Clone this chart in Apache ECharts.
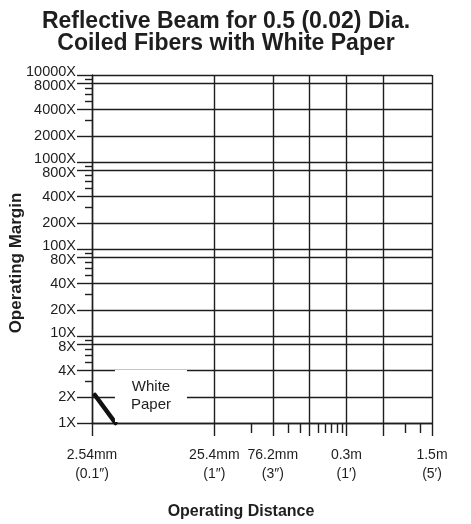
<!DOCTYPE html>
<html><head><meta charset="utf-8">
<script src="https://cdn.jsdelivr.net/npm/echarts@6/dist/echarts.min.js"></script>
<style>html,body{margin:0;padding:0;background:#fff}#chart{width:471px;height:524px}</style>
</head><body><div id="chart"></div>
<script>
const titleText = 'Reflective Beam for 0.5 (0.02) Dia.\nCoiled Fibers with White Paper';
const xName = 'Operating Distance';
const yName = 'Operating Margin';
const seriesName = 'White\nPaper';
// Operating distance (mm) and operating margin (X) of the White Paper curve
const distanceMm = [2.68, 3.95];
const marginX = [2.1, 1.0];
// X axis (mm): grid lines, labelled ticks, minor ticks
const xGridValues = [2.54, 25.4, 76.2, 152.4, 304.8, 609.6, 1524];
const xLabelValues = [2.54, 25.4, 76.2, 304.8, 1524];
const xLabelTexts = ['2.54mm\n(0.1″)', '25.4mm\n(1″)', '76.2mm\n(3″)', '0.3m\n(1′)', '1.5m\n(5′)'];
const xMinorValues = [50.8, 101.6, 127, 177.8, 203.2, 228.6, 254, 279.4, 914.4, 1219.2];
// Y axis (X margin): grid lines, labels (two label sets), minor ticks
const yGridValues = [1, 2, 4, 8, 10, 20, 40, 80, 100, 200, 400, 800, 1000, 2000, 4000, 8000, 10000];
const yLabelMain = [1, 2, 4, 10, 20, 40, 100, 200, 400, 1000, 2000, 4000, 10000];
const yLabelEights = [8, 80, 800, 8000];
const yMinorValues = [3, 5, 6, 7, 9, 30, 50, 60, 70, 90, 300, 500, 600, 700, 900, 3000, 5000, 6000, 7000, 9000];

const FONT = "'Liberation Sans', Arial, Helvetica, sans-serif";
const INK = '#1e1e1e';
const gridLine = { color: INK, width: 1.4 };

const chart = echarts.init(document.getElementById('chart'), null, { renderer: 'canvas' });

function xLabelFor(v) {
  for (let i = 0; i < xLabelValues.length; i++) {
    if (Math.abs(xLabelValues[i] - v) < 1e-6 * xLabelValues[i]) return xLabelTexts[i];
  }
  return '';
}
// Labels at 10^n (n>0) sit a little higher so they do not collide with the 8·10^(n-1) label below
function yMainLabel(v) {
  const lg = Math.log10(v);
  if (v > 1 && Math.abs(lg - Math.round(lg)) < 1e-9) return '{up|' + v + 'X}';
  return '{n|' + v + 'X}';
}
function yEightLabel(v) { return '{dn|' + v + 'X}'; }

const lastIdx = distanceMm.length - 1;
const yLabelBase = { fontFamily: FONT, fontSize: 14.5, color: INK };
const yRich = {
  n: Object.assign({}, yLabelBase),
  up: Object.assign({ padding: [0, 0, 6, 0] }, yLabelBase),
  dn: Object.assign({ padding: [6, 0, 0, 0] }, yLabelBase)
};

chart.setOption({
  animation: false,
  backgroundColor: '#fff',
  title: {
    text: titleText,
    left: 226,
    top: 11,
    textAlign: 'center',
    padding: 0,
    textStyle: { fontFamily: FONT, fontSize: 23, fontWeight: 'bold', lineHeight: 22, color: INK }
  },
  grid: { left: 92, right: 39, top: 75, bottom: 101, containLabel: false, outerBoundsMode: 'none' },
  xAxis: [
    {
      type: 'log', logBase: 10, min: 2.54, max: 1524, position: 'bottom',
      name: xName, nameLocation: 'middle', nameGap: 81,
      nameTextStyle: { fontFamily: FONT, fontSize: 16, fontWeight: 'bold', color: INK, padding: [0, 42, 0, 0] },
      axisLine: { show: true, lineStyle: gridLine },
      axisTick: { show: true, inside: false, length: 13, customValues: xGridValues, lineStyle: gridLine },
      axisLabel: {
        customValues: xLabelValues, formatter: xLabelFor, margin: 22,
        showMinLabel: true, showMaxLabel: true,
        fontFamily: FONT, fontSize: 14, lineHeight: 19.5, color: INK
      },
      splitLine: { show: true, lineStyle: gridLine }
    },
    {
      type: 'log', logBase: 10, min: 2.54, max: 1524, position: 'bottom', gridIndex: 0,
      axisLine: { show: false },
      axisTick: { show: true, inside: false, length: 10, customValues: xMinorValues, lineStyle: gridLine },
      axisLabel: { show: false },
      splitLine: { show: false }
    }
  ],
  yAxis: [
    {
      type: 'log', logBase: 10, min: 1, max: 10000, position: 'left',
      name: yName, nameLocation: 'middle', nameGap: 67, nameRotate: 90, nameMoveOverlap: false,
      nameTextStyle: { fontFamily: FONT, fontSize: 17, fontWeight: 'bold', color: INK, padding: [0, 28, 0, 0] },
      axisLine: { show: true, lineStyle: gridLine },
      axisTick: { show: true, inside: false, length: 15, customValues: yGridValues, lineStyle: gridLine },
      axisLabel: {
        customValues: yLabelMain, formatter: yMainLabel, margin: 16,
        showMinLabel: true, showMaxLabel: true,
        fontFamily: FONT, fontSize: 14.5, color: INK, rich: yRich
      },
      splitLine: { show: true, lineStyle: gridLine }
    },
    {
      type: 'log', logBase: 10, min: 1, max: 10000, position: 'left', gridIndex: 0,
      axisLine: { show: false },
      axisTick: { show: true, inside: false, length: 7, customValues: yMinorValues, lineStyle: gridLine },
      axisLabel: {
        customValues: yLabelEights, formatter: yEightLabel, margin: 16,
        showMinLabel: true, showMaxLabel: true,
        fontFamily: FONT, fontSize: 14.5, color: INK, rich: yRich
      },
      splitLine: { show: false }
    }
  ],
  series: [
    {
      name: 'White Paper',
      type: 'line',
      xAxisIndex: 0, yAxisIndex: 0,
      symbol: 'circle', symbolSize: 0, showSymbol: true,
      lineStyle: { color: '#111', width: 4.5, cap: 'round' },
      itemStyle: { color: '#111' },
      clip: false,
      data: distanceMm.map((d, i) => ({
        value: [d, marginX[i]],
        label: { show: i === lastIdx }
      })),
      label: {
        show: false,
        formatter: seriesName,
        position: 'inside',
        offset: [35.5, -27],
        align: 'center', verticalAlign: 'middle',
        fontFamily: FONT, fontSize: 15, lineHeight: 18, color: INK,
        backgroundColor: '#fff', padding: [12, 16, 4, 16]
      },
      z: 3
    }
  ]
});
</script>
</body></html>
